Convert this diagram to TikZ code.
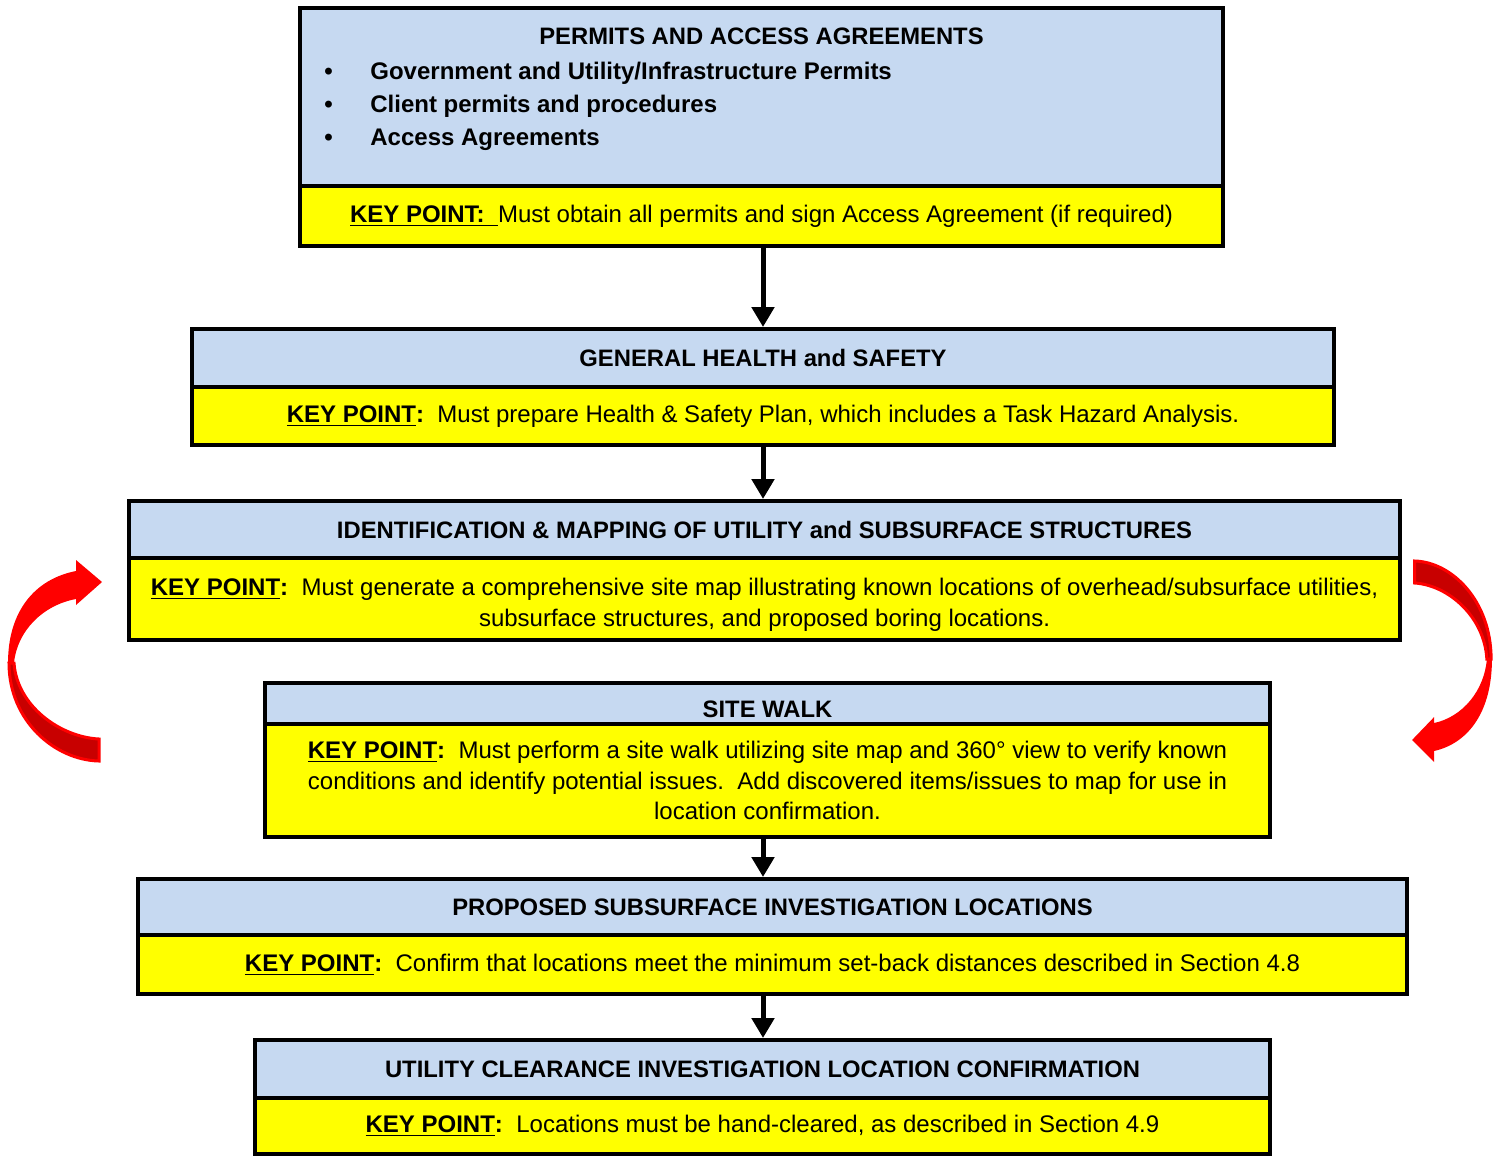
\documentclass[tikz,border=0pt]{standalone}
\usepackage{fontspec}
\setmainfont{Liberation Sans}
\usepackage{tikz}
\usetikzlibrary{arrows.meta,positioning,calc}
\definecolor{barblue}{HTML}{C6D9F1}
\definecolor{keyyellow}{HTML}{FFFF00}
\definecolor{loopred}{HTML}{FF0000}
\definecolor{loopshade}{HTML}{C80000}
\newcommand{\keypt}{\underline{\textbf{KEY POINT}}\textbf{:}}

\tikzset{
  titlebar/.style={draw, line width=2pt, fill=barblue, inner sep=0pt, font=\fontsize{11.9}{13}\selectfont\bfseries},
  keybar/.style={draw, line width=2pt, fill=keyyellow, inner sep=0pt, align=center, font=\fontsize{12}{15.3}\selectfont},
  bendarrow/.pic={
    \fill[loopred] (-47,2) .. controls (-47,-50) and (-20,-82) .. (21,-90) -- (21,-101) -- (47,-79) -- (21,-56) -- (21,-62) .. controls (-12,-56) and (-38,-30) .. (-41,2) -- cycle;
    \filldraw[fill=loopshade, draw=loopred, line width=1.5pt] (-46,2) .. controls (-46,60) and (0,99) .. (44,100) -- (44,78) .. controls (5,76) and (-38,45) .. (-41,2) -- cycle;
  }
}

\begin{document}
\begin{tikzpicture}[x=0.5pt, y=-0.5pt, >={Triangle[width=11pt,length=10pt]}]
\useasboundingbox (0,0) rectangle (1502,1157);
\coordinate (spine) at (763,0);

% permits
\node[titlebar, minimum width=461.5pt, minimum height=89pt] (permits) at (761.5,97) {};
\node[font=\fontsize{11.9}{13}\selectfont\bfseries] (permitsTitle) at (761.5,36) {PERMITS AND ACCESS AGREEMENTS};
\node[anchor=west, inner sep=0pt, font=\fontsize{12}{16.5}\selectfont\bfseries] (permitsList) at (324,106) {%
  \begin{tabular}{@{}p{23pt}@{}l@{}}
  \textbullet & Government and Utility/Infrastructure Permits\\
  \textbullet & Client permits and procedures\\
  \textbullet & Access Agreements
  \end{tabular}};
\node[keybar, minimum width=461.5pt, minimum height=30pt] (permitsKey) at (761.5,216) {\underline{\textbf{KEY POINT:\ \ }}Must obtain all permits and sign Access Agreement (if required)};

% health and safety
\node[titlebar, minimum width=571pt, minimum height=29pt] (health) at (763,358) {GENERAL HEALTH and SAFETY};
\node[keybar, minimum width=571pt, minimum height=29pt] (healthKey) at (763,416) {\keypt\ \ Must prepare Health \& Safety Plan, which includes a Task Hazard Analysis.};

% mapping
\node[titlebar, minimum width=635.5pt, minimum height=28.5pt] (mapping) at (764.5,529.5) {IDENTIFICATION \& MAPPING OF UTILITY and SUBSURFACE STRUCTURES};
\node[keybar, minimum width=635.5pt, minimum height=41pt] (mappingKey) at (764.5,599) {\raisebox{-3pt}[\height][\depth]{\begin{tabular}{@{}c@{}}\keypt\ \ Must generate a comprehensive site map illustrating known locations of overhead/subsurface utilities,\\subsurface structures, and proposed boring locations.\end{tabular}}};

% site walk
\node[titlebar, minimum width=502.5pt, minimum height=20.5pt] (walk) at (767.5,703.5) {\raisebox{-3pt}[\height][\depth]{SITE WALK}};
\node[keybar, minimum width=502.5pt, minimum height=56.5pt] (walkKey) at (767.5,780.5) {\keypt\ \ Must perform a site walk utilizing site map and 360° view to verify known\\conditions and identify potential issues.\ \ Add discovered items/issues to map for use in\\location confirmation.};

% proposed locations
\node[titlebar, minimum width=634.5pt, minimum height=28pt] (proposed) at (772.5,907) {PROPOSED SUBSURFACE INVESTIGATION LOCATIONS};
\node[keybar, minimum width=634.5pt, minimum height=29.5pt] (proposedKey) at (772.5,964.5) {\keypt\ \ Confirm that locations meet the minimum set-back distances described in Section 4.8};

% clearance
\node[titlebar, minimum width=507.5pt, minimum height=29pt] (clearance) at (762.5,1069) {UTILITY CLEARANCE INVESTIGATION LOCATION CONFIRMATION};
\node[keybar, minimum width=507.5pt, minimum height=28pt] (clearanceKey) at (762.5,1126) {\keypt\ \ Locations must be hand-cleared, as described in Section 4.9};

% flow arrows
\draw[->, line width=2.5pt] (permitsKey.south -| spine) -- (health.north -| spine);
\draw[->, line width=2.5pt] (healthKey.south -| spine) -- (mapping.north -| spine);
\draw[->, line width=2.5pt] (walkKey.south -| spine) -- (proposed.north -| spine);
\draw[->, line width=2.5pt] (proposedKey.south -| spine) -- (clearance.north -| spine);

% red loop arrows
\pic at (55,661) {bendarrow};
\pic[rotate=180, xscale=0.85] at (1452,661) {bendarrow};
\end{tikzpicture}
\end{document}
